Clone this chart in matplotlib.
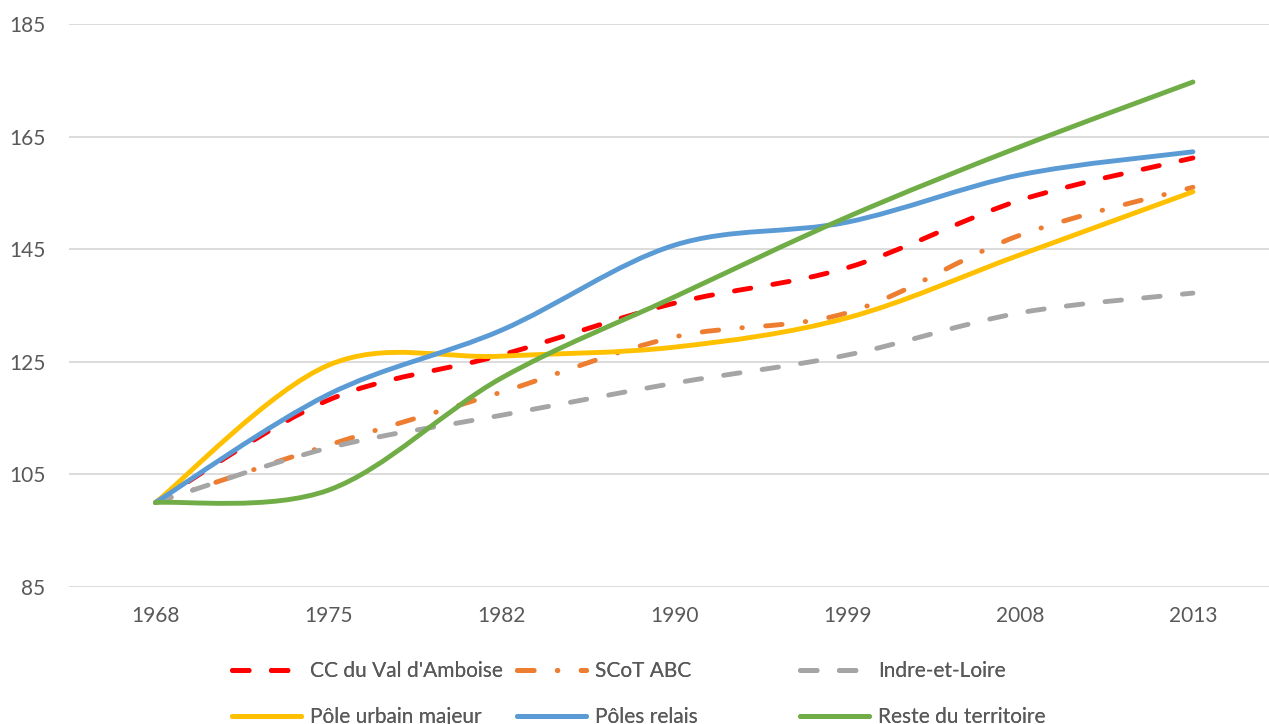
import numpy as np
import matplotlib
matplotlib.use('Agg')
import matplotlib.pyplot as plt
from matplotlib.path import Path
from matplotlib.patches import PathPatch
from matplotlib.lines import Line2D

plt.rcParams['font.family'] = ['Lato', 'DejaVu Sans']

# ── Data ──────────────────────────────────────────────────────────────────────
years = ['1968', '1975', '1982', '1990', '1999', '2008', '2013']

cc_val_amboise = [100, 118.2, 126.2, 135.4, 141.7, 153.7, 161.2]
scot_abc       = [100, 110.2, 119.6, 129.4, 133.7, 147.5, 156.0]
indre_et_loire = [100, 109.7, 115.5, 121.2, 126.2, 133.7, 137.2]
pole_urbain    = [100, 124.4, 126.0, 127.6, 132.8, 144.0, 155.2]
poles_relais   = [100, 119.2, 130.6, 145.7, 149.8, 158.2, 162.3]
reste_terr     = [100, 102.2, 122.1, 136.5, 150.7, 163.2, 174.7]

# ── Styles ────────────────────────────────────────────────────────────────────
LW = 3.5
series = [
    ("CC du Val d'Amboise", cc_val_amboise, '#FF0000', (0, (3.4, 4.6))),
    ("SCoT ABC",            scot_abc,       '#ED7D31', (0, (3.4, 4.8, 0.1, 4.8))),
    ("Indre-et-Loire",      indre_et_loire, '#A5A5A5', (0, (3.4, 4.6))),
    ("Pôle urbain majeur",  pole_urbain,    '#FFC000', '-'),
    ("Pôles relais",        poles_relais,   '#5B9BD5', '-'),
    ("Reste du territoire", reste_terr,     '#70AD47', '-'),
]


def smooth_path(xs, ys):
    """Excel-like smoothed line: cubic Bezier through every data point."""
    pts = np.column_stack([xs, ys]).astype(float)
    n = len(pts)
    verts, codes = [pts[0]], [Path.MOVETO]
    for i in range(n - 1):
        p0 = pts[i - 1] if i > 0 else pts[i]
        p1, p2 = pts[i], pts[i + 1]
        p3 = pts[i + 2] if i + 2 < n else pts[i + 1]
        verts += [p1 + (p2 - p0) / 6, p2 - (p3 - p1) / 6, p2]
        codes += [Path.CURVE4] * 3
    return Path(verts, codes)


# ── Plot ──────────────────────────────────────────────────────────────────────
fig = plt.figure(figsize=(12.69, 7.24), dpi=100)
ax = fig.add_axes([69 / 1269, 1 - 587 / 724, 1 - 69 / 1269, (587 - 24) / 724])

x = np.arange(len(years))
handles = []
for z, (name, vals, col, ls) in enumerate(series):
    patch = PathPatch(smooth_path(x, vals), fill=False, edgecolor=col, lw=LW,
                      linestyle=ls, capstyle='round', joinstyle='round',
                      zorder=3 + z)
    ax.add_patch(patch)
    handles.append(Line2D([], [], color=col, lw=LW, linestyle=ls,
                          dash_capstyle='round', solid_capstyle='round'))

ax.set_xlim(-0.5, 6.44)
ax.set_ylim(85, 185)
ax.set_xticks(x)
ax.set_xticklabels(years)
ax.set_yticks(np.arange(85, 186, 20))
ax.tick_params(axis='both', length=0, labelsize=15, labelcolor='#595959')
ax.tick_params(axis='y', pad=17)
ax.tick_params(axis='x', pad=14)
ax.grid(axis='y', color='#D9D9D9', lw=1.3)
ax.set_axisbelow(True)
for s in ax.spines.values():
    s.set_visible(False)

# Legend: three fixed-width columns, as in the original
col_x = [232, 517, 800]
for c in range(3):
    idx = [c, c + 3]
    leg = fig.legend([handles[i] for i in idx], [series[i][0] for i in idx],
                     loc='upper left', bbox_to_anchor=(col_x[c] / 1269, 1 - 661 / 724),
                     frameon=False, fontsize=15, labelcolor='#595959',
                     handlelength=3.3, handletextpad=0.45, labelspacing=1.25,
                     borderpad=0, borderaxespad=0)
    fig.add_artist(leg)

fig.savefig('out.png', dpi=100)
